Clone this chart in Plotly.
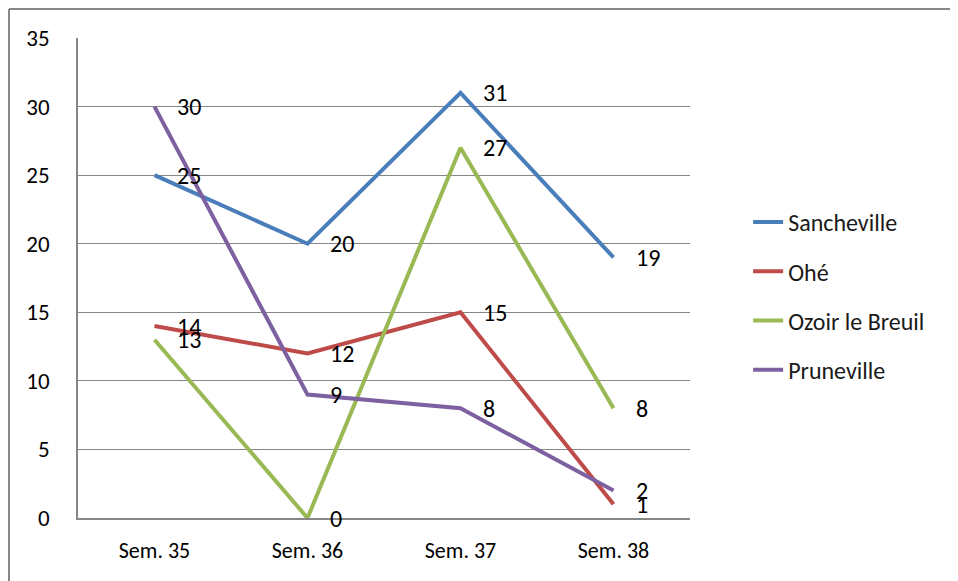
import plotly.graph_objects as go

# weeks on the x axis
semaines = ["Sem. 35", "Sem. 36", "Sem. 37", "Sem. 38"]

# one list of values per town
sancheville = [25, 20, 31, 19]
ohe = [14, 12, 15, 1]
ozoir = [13, 0, 27, 8]
pruneville = [30, 9, 8, 2]

noms = ["Sancheville", "Ohé", "Ozoir le Breuil", "Pruneville"]
couleurs = ["#4A7EBB", "#BE4B48", "#98B954", "#7D60A0"]

police = "Carlito, Lato, sans-serif"

fig = go.Figure()
annots = []
for nom, valeurs, coul in zip(noms, [sancheville, ohe, ozoir, pruneville], couleurs):
    fig.add_trace(go.Scatter(x=semaines, y=valeurs, name=nom, mode="lines",
                             line=dict(color=coul, width=4), legendgroup=nom))
    # data labels to the right of each point
    for s, v in zip(semaines, valeurs):
        annots.append(dict(x=s, y=v, text=str(v), showarrow=False, xanchor="left",
                           xshift=20, font=dict(size=24, color="black", family=police)))

# the page body has an 8px margin, so the figure is a bit smaller than the window
fig.update_layout(
    width=950, height=573,
    margin=dict(l=70, r=268, t=30, b=63),
    plot_bgcolor="white", paper_bgcolor="white",
    font=dict(family=police, size=20, color="black"),
    annotations=annots,
    showlegend=True,
    legend=dict(x=1.095, xanchor="left", y=0.4625, yanchor="middle",
                font=dict(size=24, color="#1a1a1a"), tracegroupgap=15,
                bgcolor="rgba(0,0,0,0)"),
)

fig.update_xaxes(range=[-0.5, 3.5], type="category", showgrid=False,
                 showline=True, linecolor="#868686", linewidth=1.5,
                 ticks="", ticklabelstandoff=12, automargin=False,
                 tickfont=dict(size=22, family=police, color="black"))
fig.update_yaxes(range=[0, 35], dtick=5, showgrid=True, gridcolor="#868686", gridwidth=1.2,
                 showline=True, linecolor="#868686", linewidth=1.5, zeroline=False,
                 ticks="", ticklabelstandoff=22, tickfont=dict(size=23), automargin=False)

# outer chart frame (left and top edges visible)
fig.add_shape(type="line", xref="paper", yref="paper", x0=-0.11275, x1=-0.11275, y0=-0.2, y1=1.0604,
              line=dict(color="#868686", width=2))
fig.add_shape(type="line", xref="paper", yref="paper", x0=-0.11275, x1=1.5, y0=1.0604, y1=1.0604,
              line=dict(color="#868686", width=2))

fig.write_html("out.html")
